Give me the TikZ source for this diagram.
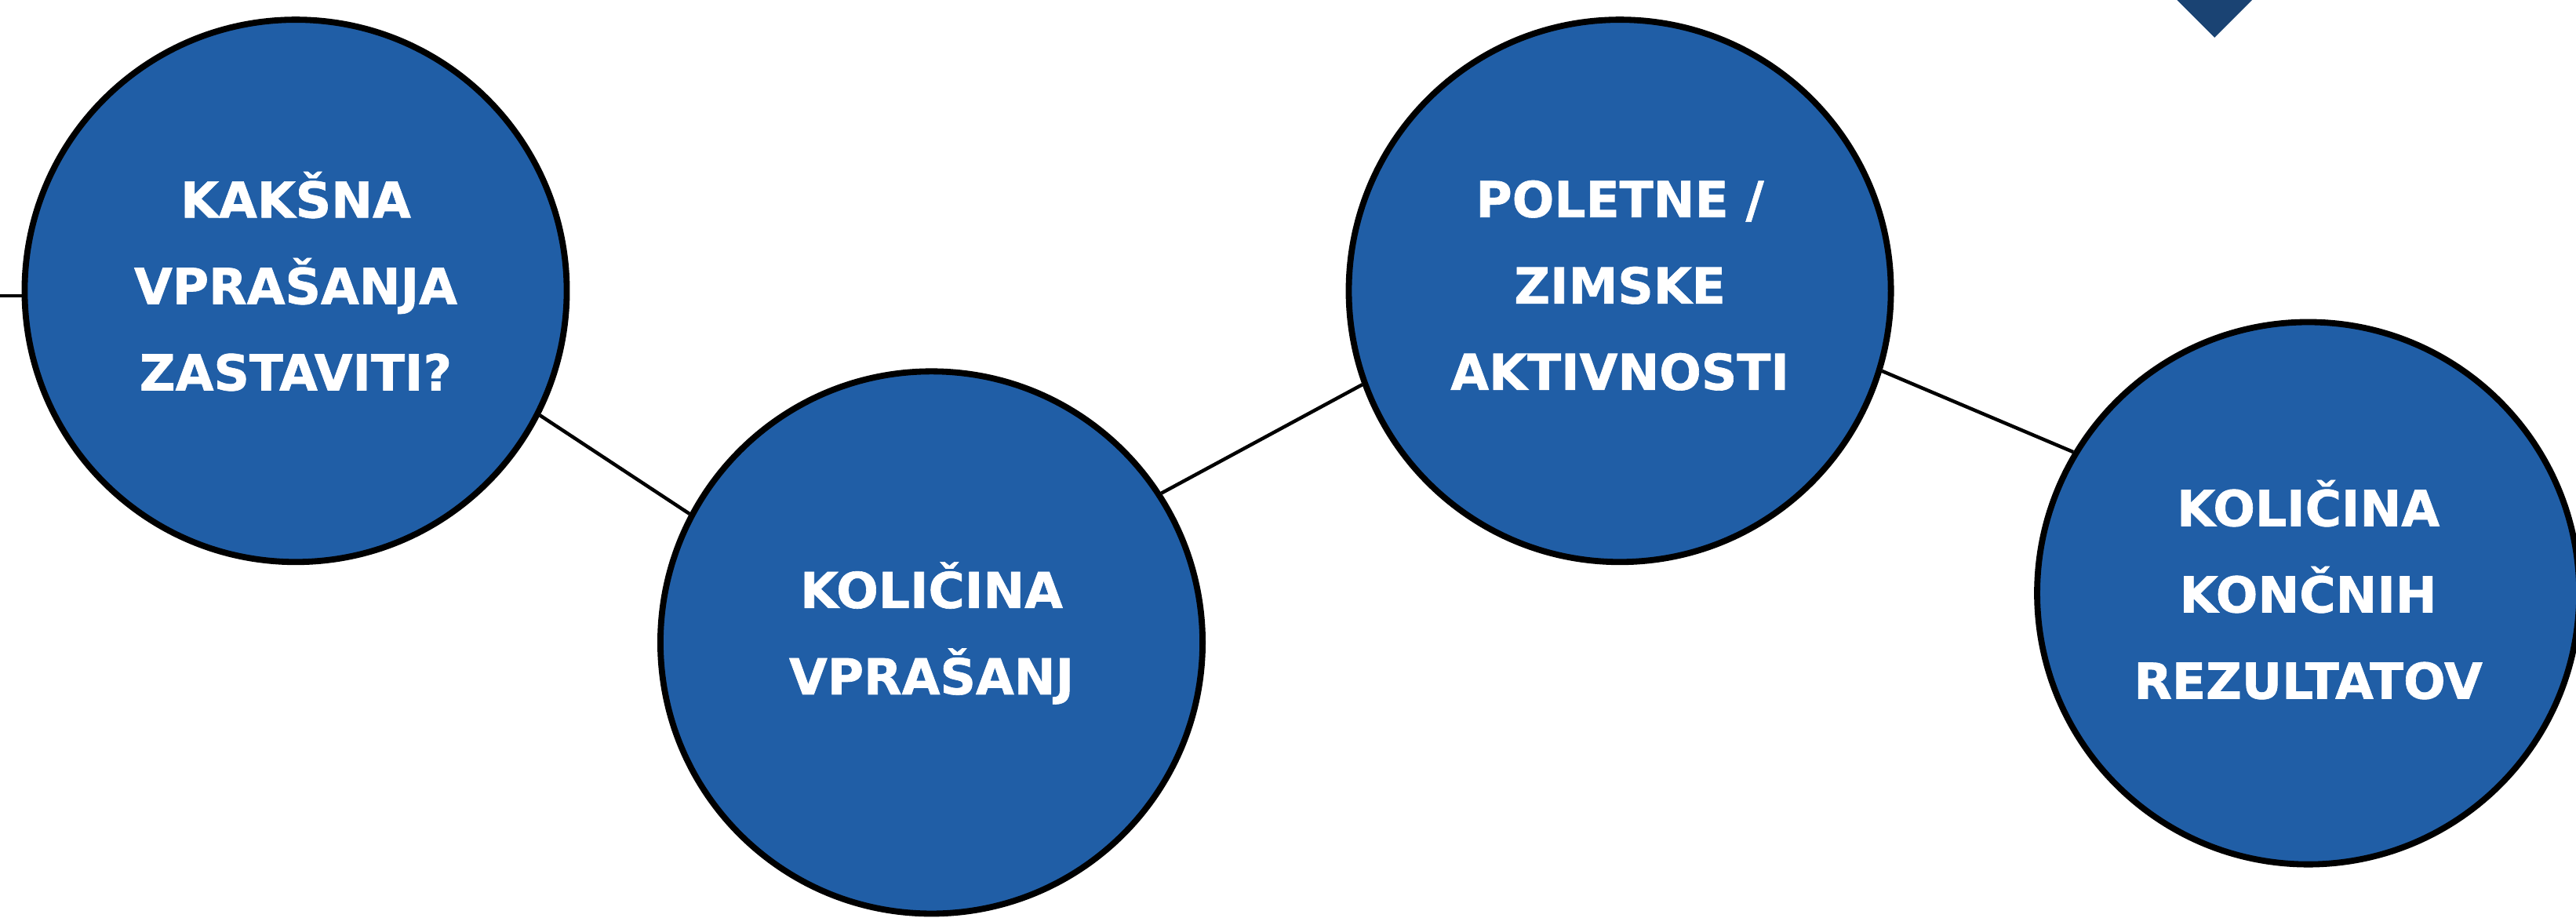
\documentclass[tikz,border=0pt]{standalone}
\usepackage{fontspec}
\newfontfamily\topicfont{DejaVu Sans Bold}[FakeBold=1.0]
\usetikzlibrary{shapes.geometric}

\definecolor{topicblue}{RGB}{32,94,166}
\definecolor{markblue}{RGB}{26,67,115}

% struts that fix the height of the first line and the depth of the last one
\newcommand{\tstrut}{\rule{0pt}{24pt}}
\newcommand{\bstrut}[1][12.5pt]{\rule[-#1]{0pt}{0pt}}

\tikzset{
  topic/.style={circle, draw=black, line width=2.8pt, fill=topicblue,
    minimum size=247.5pt, inner sep=0pt, align=center, text=white,
    font=\topicfont\fontsize{22.6}{39.4}\selectfont},
  link/.style={draw=black, line width=1.6pt}
}

\begin{document}
\begin{tikzpicture}[x=0.75pt,y=0.75pt,yscale=-1,xscale=1]
\useasboundingbox (0,0) rectangle (1568,558.6);
\coordinate (edge) at (0,0);

%Shape: Diamond
\node [diamond, fill=markblue, inner sep=0pt, minimum size=34.5pt] (marker) at (1348,0) {};

%Shape: Circle
\node [topic] (kaksna) at (180,177) {\tstrut KAKŠNA\\VPRAŠANJA\\ZASTAVITI?\bstrut[12pt]};
%Shape: Circle
\node [topic] (kolicina) at (567,391) {\tstrut KOLIČINA\\VPRAŠANJ\bstrut[16.1pt]};
%Shape: Circle
\node [topic] (aktivnosti) at (986,177) {\tstrut POLETNE /\\ZIMSKE\\AKTIVNOSTI\bstrut};
%Shape: Circle
\node [topic] (rezultati) at (1405,361) {\tstrut KOLIČINA\\KONČNIH\\REZULTATOV\bstrut[6.5pt]};

%Straight Lines
\draw [link] (kaksna.181 -| edge) -- (kaksna.181);
\draw [link] (kaksna.-27) -- (kolicina.152);
\draw [link] (kolicina.33) -- (aktivnosti.200);
\draw [link] (aktivnosti.-17) -- (rezultati.149);

\end{tikzpicture}
\end{document}
